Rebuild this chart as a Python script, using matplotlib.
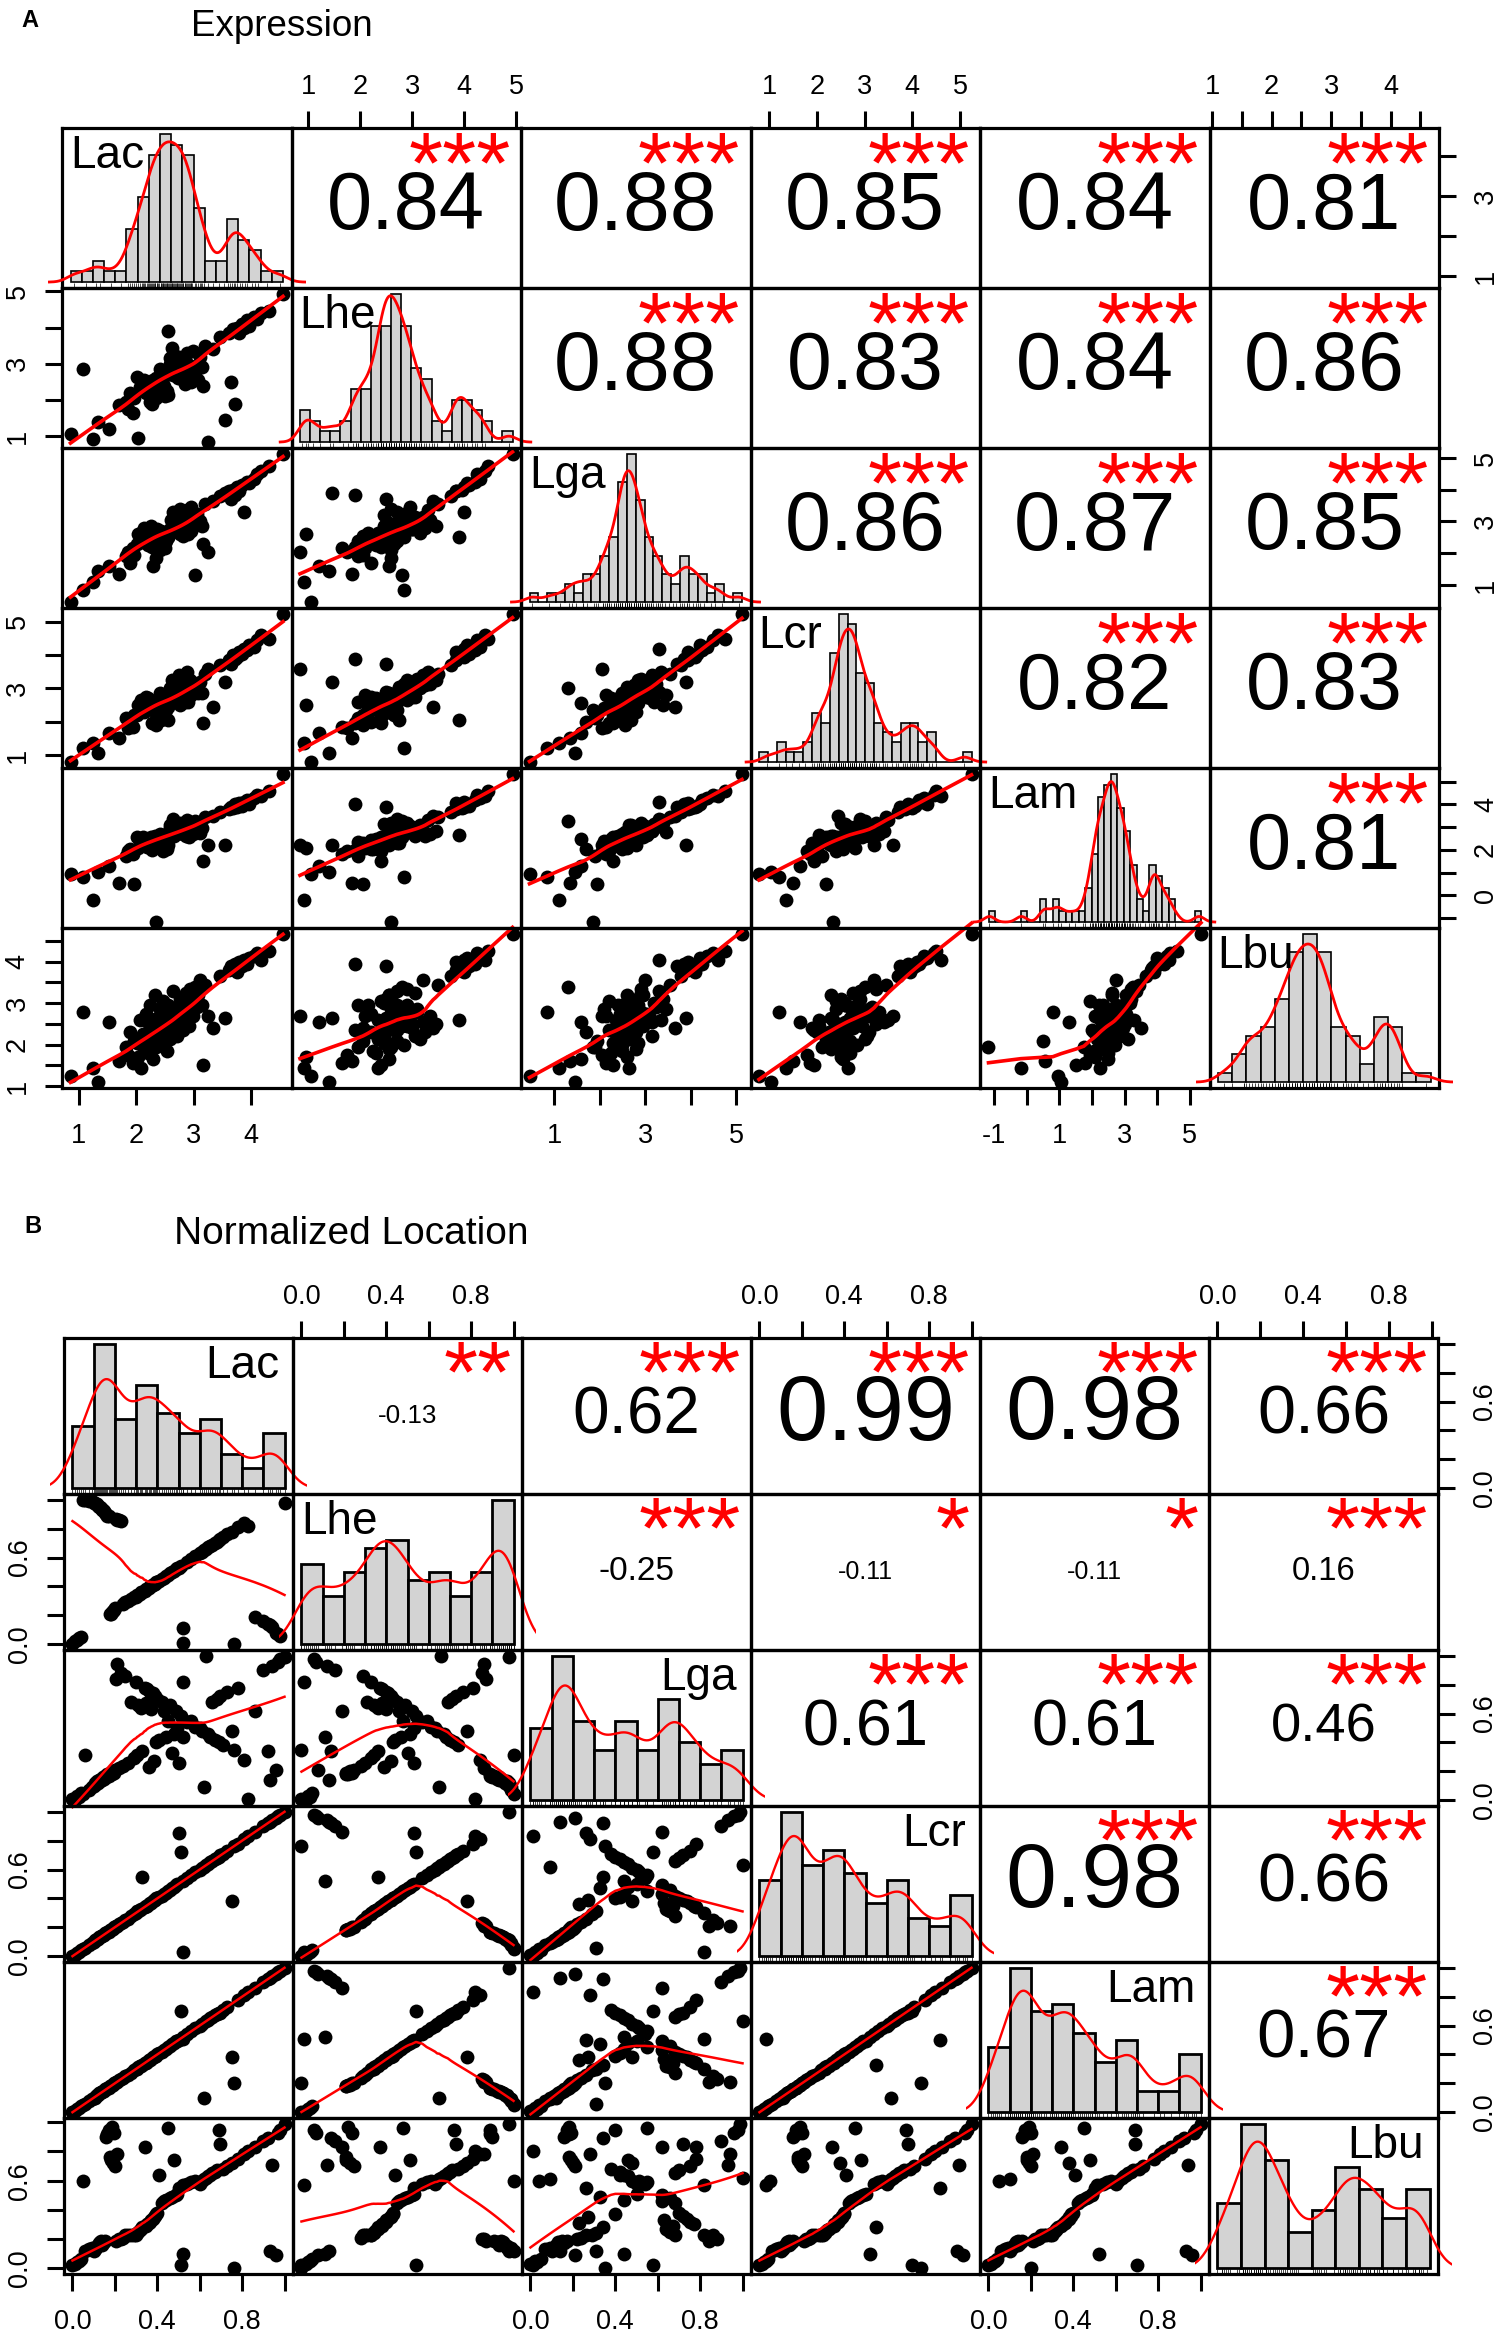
import numpy as np
import matplotlib
matplotlib.use("Agg")
import matplotlib.pyplot as plt
from matplotlib.transforms import Bbox, TransformedBbox

plt.rcParams["font.family"] = ["Liberation Sans", "DejaVu Sans"]

W, H = 1500, 2336
names = ["Lac", "Lhe", "Lga", "Lcr", "Lam", "Lbu"]

## Panel A: expression values (one entry per gene)
expr_lac = [0.86, 1.08, 1.25, 1.33, 1.52, 1.70, 1.82, 1.86, 1.90, 1.94,
            1.97, 2.01, 2.04, 2.07, 2.09, 2.12, 2.14, 2.17, 2.19, 2.21,
            2.22, 2.24, 2.25, 2.27, 2.29, 2.31, 2.32, 2.34, 2.35, 2.37,
            2.39, 2.41, 2.42, 2.43, 2.45, 2.46, 2.47, 2.49, 2.50, 2.52,
            2.53, 2.55, 2.56, 2.58, 2.59, 2.61, 2.62, 2.64, 2.65, 2.67,
            2.68, 2.70, 2.71, 2.73, 2.74, 2.76, 2.77, 2.79, 2.81, 2.82,
            2.84, 2.85, 2.87, 2.88, 2.90, 2.92, 2.93, 2.95, 2.96, 2.98,
            3.02, 3.05, 3.08, 3.11, 3.14, 3.16, 3.19, 3.25, 3.34, 3.45,
            3.55, 3.62, 3.65, 3.69, 3.72, 3.75, 3.78, 3.83, 3.87, 3.92,
            3.96, 4.04, 4.10, 4.16, 4.31, 4.55]
expr_lhe = [1.05, 2.85, 0.92, 1.40, 1.20, 1.85, 1.95, 1.75, 2.20, 1.65, 2.05,
            2.65, 0.95, 2.35, 2.35, 2.40, 2.55, 2.20, 2.35, 2.30, 2.50, 1.95,
            2.45, 1.90, 2.55, 2.45, 2.55, 2.05, 2.60, 2.50, 2.15, 2.85, 2.60,
            2.75, 2.70, 2.65, 2.40, 2.40, 2.10, 2.70, 2.25, 3.90, 2.15,
            3.00, 3.15, 2.75, 3.45, 2.70, 3.25, 2.85, 3.10, 2.90, 3.05, 2.60,
            3.20, 2.75, 2.60, 3.00, 3.10, 2.65, 2.45, 2.95, 3.05, 3.30, 2.70,
            2.80, 2.90, 2.95, 2.50, 3.35, 2.80, 2.85, 2.55, 3.20, 2.90,
            2.40, 3.50, 0.84, 3.40, 3.75, 1.45, 3.85, 2.50, 3.95, 1.90, 4.00,
            3.85, 4.10, 4.00, 4.20, 4.05, 4.30, 4.25, 4.40, 4.45, 4.93]
expr_lga = [0.46, 0.85, 1.10, 1.45, 1.60, 1.35, 1.90, 2.05, 1.70, 2.15, 1.95,
            2.30, 2.60, 2.35, 2.65, 2.35, 2.80, 2.45, 2.45, 2.25, 2.65, 2.40,
            2.85, 2.20, 1.60, 2.55, 2.60, 2.55, 1.85, 2.75, 2.65, 2.50, 2.10,
            2.70, 2.45, 2.60, 2.20, 2.55, 2.15, 2.40, 2.50, 2.50, 2.50,
            2.75, 2.65, 3.05, 2.85, 3.30, 2.80, 3.10, 2.75, 2.80, 3.15, 2.70,
            3.15, 2.60, 3.40, 2.75, 2.90, 2.55, 3.20, 3.00, 2.90, 3.35, 2.60,
            2.95, 2.90, 3.45, 2.70, 3.05, 1.30, 3.25, 2.95, 3.00, 2.85,
            2.30, 3.55, 2.05, 3.65, 3.80, 3.90, 3.95, 3.70, 4.00, 3.85, 4.10,
            3.95, 4.15, 3.30, 4.25, 4.20, 4.35, 4.50, 4.60, 4.75, 5.13]
expr_lcr = [0.79, 1.20, 1.35, 1.05, 1.65, 1.50, 2.10, 1.80, 2.00, 1.85, 2.20,
            2.20, 2.50, 2.35, 2.65, 2.45, 2.30, 2.75, 2.45, 2.70, 2.50, 2.60,
            2.55, 1.95, 2.55, 2.50, 2.30, 1.90, 2.35, 2.30, 2.25, 2.85, 2.40,
            2.05, 2.70, 2.60, 2.40, 2.15, 2.80, 2.35, 2.55, 2.05, 2.45,
            2.75, 3.00, 2.75, 3.25, 2.90, 3.10, 2.70, 3.10, 2.65, 3.05, 2.70,
            3.40, 3.05, 2.50, 2.80, 3.30, 2.65, 2.60, 2.90, 2.75, 3.50, 2.60,
            2.95, 3.25, 2.80, 2.90, 3.15, 3.00, 3.15, 2.85, 3.20, 2.85,
            1.95, 3.45, 3.60, 2.45, 3.70, 3.20, 3.85, 3.75, 4.00, 3.90, 3.95,
            4.10, 4.05, 4.20, 4.15, 4.30, 4.25, 4.45, 4.60, 4.50, 5.24]
expr_lam = [0.95, 0.80, -0.18, 1.05, 1.30, 0.55, 1.75, 1.95, 2.05, 1.80, 0.50,
            2.55, 2.10, 2.50, 2.25, 2.55, 2.20, 2.45, 2.15, 2.50, 2.45, 2.35,
            2.55, 2.00, 2.50, 2.45, 2.60, 2.30, -1.17, 2.35, 2.25, 2.70, 2.40,
            2.30, 2.30, 2.65, 1.95, 2.40, 2.10, 2.60, 2.05, 2.65, 2.20,
            2.95, 3.10, 2.65, 2.85, 3.35, 2.60, 2.95, 2.90, 2.80, 2.85, 3.00,
            2.85, 2.75, 3.20, 3.00, 2.70, 2.80, 3.15, 3.05, 2.60, 3.30, 2.75,
            2.55, 3.20, 2.80, 3.10, 2.70, 3.25, 3.00, 3.05, 2.75, 2.95,
            1.50, 3.45, 2.20, 3.50, 3.65, 2.20, 3.80, 3.90, 3.85, 4.00, 3.90,
            4.05, 3.95, 4.10, 4.20, 4.00, 4.30, 4.40, 4.35, 4.60, 5.34]
expr_lbu = [1.25, 2.80, 1.45, 1.10, 2.55, 1.60, 1.95, 1.75, 2.30, 1.55,
            2.10, 2.05, 1.70, 2.60, 1.45, 2.25, 1.90, 2.75, 2.15, 1.80,
            2.50, 2.95, 2.05, 2.35, 1.65, 2.20, 3.20, 2.40, 1.95, 2.65,
            2.30, 2.00, 2.85, 2.45, 2.10, 2.55, 3.05, 2.25, 2.70, 2.35,
            1.85, 2.60, 2.95, 2.40, 2.15, 2.75, 2.50, 3.30, 2.30, 2.65,
            2.85, 2.45, 2.20, 2.90, 2.55, 2.70, 3.10, 2.50, 2.80, 2.35,
            3.00, 2.75, 3.25, 2.60, 2.95, 2.45, 3.35, 2.85, 3.10, 2.70,
            3.40, 2.90, 3.20, 3.55, 2.95, 1.50, 3.45, 2.70, 2.40, 3.65,
            2.65, 3.80, 3.90, 3.85, 3.95, 3.75, 4.00, 3.90, 4.05, 3.95,
            4.10, 4.15, 4.20, 4.05, 4.25, 4.67]
# printed coefficients, upper triangle row by row
expr_r = [0.84, 0.88, 0.85, 0.84, 0.81,
          0.88, 0.83, 0.84, 0.86,
          0.86, 0.87, 0.85,
          0.82, 0.83,
          0.81]
expr_stars = ["***"] * 15

## Panel B: normalized location values
loc_lac = [0.00, 0.01, 0.02, 0.03, 0.04, 0.05, 0.06, 0.08, 0.09,
           0.100, 0.105, 0.110, 0.115, 0.120, 0.125, 0.130, 0.135, 0.140, 0.145, 0.150,
           0.155, 0.160, 0.165, 0.170, 0.175, 0.180, 0.185, 0.190, 0.195, 0.199,
           0.205, 0.210, 0.220, 0.230, 0.240, 0.250, 0.260, 0.275, 0.290,
           0.300, 0.305, 0.310, 0.320, 0.325, 0.330, 0.340, 0.345, 0.350, 0.360,
           0.365, 0.370, 0.380, 0.385, 0.390, 0.395,
           0.40, 0.41, 0.42, 0.43, 0.44, 0.45, 0.46, 0.47, 0.48, 0.49, 0.495,
           0.50, 0.51, 0.52, 0.52, 0.54, 0.56, 0.58,
           0.60, 0.61, 0.62, 0.63, 0.64, 0.65, 0.66, 0.67, 0.68, 0.69, 0.695,
           0.71, 0.73, 0.75, 0.76, 0.78,
           0.81, 0.83, 0.86,
           0.90, 0.92, 0.93, 0.94, 0.96, 0.97, 0.98, 1.00]
loc_lhe = [0.00, 0.02, 0.03, 0.04, 0.05, 1.00, 1.00, 0.99, 0.99,
           0.98, 0.98, 0.97, 0.97, 0.96, 0.95, 0.95, 0.94, 0.93, 0.93, 0.92,
           0.91, 0.90, 0.89, 0.89, 0.21, 0.21, 0.22, 0.23, 0.24, 0.25,
           0.87, 0.86, 0.86, 0.85, 0.28, 0.29, 0.30, 0.31, 0.33,
           0.33, 0.34, 0.34, 0.35, 0.36, 0.36, 0.37, 0.38, 0.38, 0.39,
           0.40, 0.40, 0.41, 0.42, 0.42, 0.43,
           0.43, 0.44, 0.45, 0.46, 0.47, 0.48, 0.49, 0.50, 0.51, 0.52, 0.53,
           0.53, 0.54, 0.11, 0.01, 0.57, 0.59, 0.61,
           0.63, 0.64, 0.65, 0.66, 0.67, 0.68, 0.69, 0.70, 0.71, 0.72, 0.73,
           0.74, 0.76, 0.78, 0.00, 0.81,
           0.84, 0.82, 0.19,
           0.16, 0.14, 0.13, 0.12, 0.08, 0.07, 0.06, 0.98]
loc_lga = [0.01, 0.00, 0.03, 0.02, 0.05, 0.04, 0.31, 0.07, 0.09,
           0.10, 0.12, 0.11, 0.13, 0.12, 0.14, 0.13, 0.15, 0.14, 0.16, 0.15,
           0.17, 0.16, 0.18, 0.17, 0.18, 0.19, 0.18, 0.20, 0.19, 0.21,
           0.84, 0.94, 0.22, 0.88, 0.24, 0.86, 0.26, 0.68, 0.29,
           0.82, 0.31, 0.66, 0.65, 0.64, 0.34, 0.78, 0.67, 0.77, 0.23,
           0.75, 0.63, 0.74, 0.27, 0.72, 0.40,
           0.70, 0.42, 0.68, 0.62, 0.44, 0.55, 0.66, 0.33, 0.46, 0.62, 0.50,
           0.26, 0.58, 0.44, 0.82, 0.54, 0.55, 0.51,
           0.50, 0.48, 0.09, 1.00, 0.46, 0.44, 0.68, 0.42, 0.70, 0.40, 0.72,
           0.38, 0.75, 0.48, 0.35, 0.78,
           0.28, 0.01, 0.62,
           0.90, 0.34, 0.14, 0.93, 0.21, 0.96, 0.98, 0.99]
loc_lcr = [0.00, 0.01, 0.02, 0.03, 0.04, 0.05, 0.06, 0.08, 0.09,
           0.10, 0.11, 0.11, 0.12, 0.12, 0.13, 0.13, 0.14, 0.14, 0.15, 0.15,
           0.16, 0.16, 0.17, 0.17, 0.18, 0.18, 0.19, 0.19, 0.20, 0.20,
           0.21, 0.21, 0.22, 0.23, 0.24, 0.25, 0.26, 0.28, 0.29,
           0.30, 0.31, 0.31, 0.32, 0.33, 0.55, 0.34, 0.35, 0.35, 0.36,
           0.37, 0.37, 0.38, 0.39, 0.39, 0.40,
           0.40, 0.41, 0.42, 0.43, 0.44, 0.45, 0.46, 0.47, 0.48, 0.49, 0.50,
           0.85, 0.72, 0.52, 0.03, 0.54, 0.56, 0.58,
           0.60, 0.61, 0.62, 0.63, 0.64, 0.65, 0.66, 0.67, 0.68, 0.69, 0.70,
           0.71, 0.73, 0.38, 0.76, 0.78,
           0.81, 0.83, 0.86,
           0.90, 0.92, 0.93, 0.94, 0.96, 0.97, 0.98, 1.00]
loc_lam = [0.00, 0.01, 0.02, 0.03, 0.04, 0.05, 0.06, 0.08, 0.09,
           0.10, 0.10, 0.11, 0.12, 0.12, 0.13, 0.13, 0.14, 0.14, 0.15, 0.15,
           0.16, 0.16, 0.17, 0.17, 0.18, 0.18, 0.19, 0.19, 0.20, 0.20,
           0.21, 0.21, 0.22, 0.23, 0.24, 0.25, 0.26, 0.27, 0.29,
           0.30, 0.30, 0.31, 0.32, 0.32, 0.33, 0.34, 0.34, 0.35, 0.36,
           0.36, 0.37, 0.38, 0.38, 0.39, 0.39,
           0.40, 0.41, 0.42, 0.43, 0.44, 0.45, 0.46, 0.47, 0.48, 0.49, 0.49,
           0.50, 0.70, 0.52, 0.51, 0.54, 0.56, 0.58,
           0.60, 0.61, 0.10, 0.63, 0.64, 0.65, 0.66, 0.67, 0.68, 0.69, 0.69,
           0.71, 0.73, 0.38, 0.20, 0.78,
           0.81, 0.83, 0.86,
           0.90, 0.92, 0.93, 0.94, 0.96, 0.97, 0.98, 1.00]
loc_lbu = [0.02, 0.03, 0.04, 0.05, 0.06, 0.60, 0.12, 0.13, 0.14,
           0.12, 0.13, 0.14, 0.15, 0.16, 0.17, 0.18, 0.19, 0.16, 0.17, 0.18,
           0.19, 0.90, 0.92, 0.95, 0.76, 0.74, 0.97, 0.72, 0.93, 0.70,
           0.19, 0.78, 0.20, 0.20, 0.21, 0.23, 0.23, 0.23, 0.23,
           0.23, 0.24, 0.25, 0.26, 0.27, 0.28, 0.83, 0.29, 0.30, 0.31,
           0.32, 0.33, 0.34, 0.35, 0.36, 0.37,
           0.38, 0.64, 0.45, 0.46, 0.47, 0.96, 0.48, 0.49, 0.74, 0.50, 0.51,
           0.55, 0.02, 0.10, 0.57, 0.58, 0.59, 0.60,
           0.58, 0.60, 0.61, 0.62, 0.63, 0.64, 0.65, 0.66, 0.67, 0.95, 0.85,
           0.68, 0.70, 0.72, 0.00, 0.75,
           0.78, 0.80, 0.83,
           0.87, 0.89, 0.12, 0.71, 0.09, 0.93, 0.95, 0.99]
loc_r = [-0.13, 0.62, 0.99, 0.98, 0.66,
         -0.25, -0.11, -0.11, 0.16,
         0.61, 0.61, 0.46,
         0.98, 0.66,
         0.67]
loc_stars = ["**", "***", "***", "***", "***",
             "***", "*", "*", "***",
             "***", "***", "***",
             "***", "***",
             "***"]

# tick positions / labels of the outer axes (x for columns, y for rows)
expr_xticks = [([1, 2, 3, 4], ["1", "2", "3", "4"]),
               ([1, 2, 3, 4, 5], ["1", "2", "3", "4", "5"]),
               ([1, 2, 3, 4, 5], ["1", "", "3", "", "5"]),
               ([1, 2, 3, 4, 5], ["1", "2", "3", "4", "5"]),
               ([-1, 0, 1, 2, 3, 4, 5], ["-1", "", "1", "", "3", "", "5"]),
               ([1, 1.5, 2, 2.5, 3, 3.5, 4, 4.5], ["1", "", "2", "", "3", "", "4", ""])]
expr_yticks = [([1, 2, 3, 4], ["1", "", "3", ""]),
               ([1, 2, 3, 4, 5], ["1", "", "3", "", "5"]),
               ([1, 2, 3, 4, 5], ["1", "", "3", "", "5"]),
               ([1, 2, 3, 4, 5], ["1", "", "3", "", "5"]),
               ([-1, 0, 1, 2, 3, 4, 5], ["", "0", "", "2", "", "4", ""]),
               ([1, 1.5, 2, 2.5, 3, 3.5, 4, 4.5], ["1", "", "2", "", "3", "", "4", ""])]
loc_tick_pos = [0, 0.2, 0.4, 0.6, 0.8, 1.0]
loc_xticks = [(loc_tick_pos, ["0.0", "", "0.4", "", "0.8", ""])] * 6
loc_yticks = [(loc_tick_pos, ["0.0", "", "", "0.6", "", ""])] * 6


def lowess(x, y, f=2 / 3, iters=3):
    x = np.asarray(x, float)
    y = np.asarray(y, float)
    order = np.argsort(x, kind="mergesort")
    x, y = x[order], y[order]
    n = len(x)
    k = int(np.ceil(f * n))
    fit = np.zeros(n)
    rw = np.ones(n)
    for it in range(iters + 1):
        for i in range(n):
            d = np.abs(x - x[i])
            h = max(np.sort(d)[k - 1], 1e-9)
            u = np.clip(d / h, 0, 1)
            w = (1 - u ** 3) ** 3 * rw
            sw = w.sum()
            xm = (w * x).sum() / sw
            ym = (w * y).sum() / sw
            sxx = (w * (x - xm) ** 2).sum()
            b = (w * (x - xm) * (y - ym)).sum() / sxx if sxx > 1e-12 else 0.0
            fit[i] = ym + b * (x[i] - xm)
        res = y - fit
        s = np.median(np.abs(res))
        if s == 0:
            break
        u = np.clip(res / (6 * s), -1, 1)
        rw = (1 - u ** 2) ** 2
    return x, fit


def kde(v, adjust):
    v = np.asarray(v, float)
    n = len(v)
    q75, q25 = np.percentile(v, [75, 25])
    bw = 0.9 * min(v.std(ddof=1), (q75 - q25) / 1.34) * n ** -0.2 * adjust
    xs = np.linspace(v.min() - 3 * bw, v.max() + 3 * bw, 512)
    dens = np.exp(-0.5 * ((xs[:, None] - v[None, :]) / bw) ** 2).sum(1) / (n * bw * np.sqrt(2 * np.pi))
    return xs, dens


def px_rect(x0, y0, w, h):
    return [x0 / W, 1 - (y0 + h) / H, w / W, h / H]


def clip_box(fig, x0, y0, w, h, pad):
    bb = Bbox.from_extents((x0 - pad) / W, 1 - (y0 + h + pad) / H,
                           (x0 + w + pad) / W, 1 - (y0 - pad) / H)
    return TransformedBbox(bb, fig.transFigure)


def draw_matrix(fig, cols, corr, stars, left, top, cw, ch, binw, xticks, yticks,
                label_side, hist_lw, dens_lw, smooth_lw, adjust):
    n = len(cols)
    cols = [np.asarray(c, float) for c in cols]
    lims = []
    for v in cols:
        rng = v.max() - v.min()
        lims.append((v.min() - 0.04 * rng, v.max() + 0.04 * rng))
    tick_kw = dict(length=12.5, width=2.2, labelsize=19.5)
    k = 0
    for i in range(n):
        for j in range(n):
            x0, y0 = left + j * cw, top + i * ch
            ax = fig.add_axes(px_rect(x0, y0, cw, ch))
            ax.set_facecolor("none")
            ax.set_xlim(lims[j])
            ax.set_ylim(lims[i])
            for s in ax.spines.values():
                s.set_linewidth(2.3)
            ax.tick_params(bottom=False, top=False, left=False, right=False,
                           labelbottom=False, labelleft=False)
            ax.set_xticks([])
            ax.set_yticks([])
            # outer axes, alternating like pairs()
            if i == 0 and j % 2 == 1:
                ax.set_xticks(xticks[j][0])
                ax.set_xticklabels(xticks[j][1])
                ax.tick_params(axis="x", top=True, labeltop=True, pad=8, **tick_kw)
            if i == n - 1 and j % 2 == 0:
                ax.set_xticks(xticks[j][0])
                ax.set_xticklabels(xticks[j][1])
                ax.tick_params(axis="x", bottom=True, labelbottom=True, pad=13, **tick_kw)
            if j == 0 and i % 2 == 1:
                ax.set_yticks(yticks[i][0])
                ax.set_yticklabels(yticks[i][1], rotation=90, va="center")
                ax.tick_params(axis="y", left=True, labelleft=True, pad=10, **tick_kw)
            if j == n - 1 and i % 2 == 0:
                ax.set_yticks(yticks[i][0])
                ax.set_yticklabels(yticks[i][1], rotation=90, va="center")
                ax.tick_params(axis="y", right=True, labelright=True, pad=12, **tick_kw)

            if i > j:
                # lower panel: points + lowess smoother
                ax.plot(cols[j], cols[i], "o", color="black", ms=10, mew=0)
                xs, fit = lowess(cols[j], cols[i])
                ln, = ax.plot(xs, fit, color="red", lw=smooth_lw)
                ln.set_clip_box(clip_box(fig, x0, y0, cw, ch, 12))
            elif i < j:
                r = corr[k]
                txt = "%.2f" % r
                em = 92.7 * (abs(r) + 0.3) / 1.3 * (1.946 / (1.946 + 0.333 * (r < 0)))
                ax.text(0.5, 0.5, txt, transform=ax.transAxes, ha="center", va="center",
                        fontsize=em * 0.72)
                ax.text(0.955, 0.74, stars[k], transform=ax.transAxes, ha="right",
                        va="center", color="red", fontsize=63)
                k += 1
            else:
                # diagonal: histogram, density and rug on its own scale
                v = cols[i]
                w = binw[i]
                b0 = np.floor(round(v.min() / w, 6)) * w
                b1 = np.ceil(round(v.max() / w, 6)) * w
                nb = int(round((b1 - b0) / w))
                edges = np.linspace(b0, b1, nb + 1)
                counts, _ = np.histogram(v, bins=edges)
                dens = counts / (len(v) * w)
                m = dens.max()
                hax = fig.add_axes(px_rect(x0, y0, cw, ch))
                hax.set_axis_off()
                hax.bar(edges[:-1], dens, width=w, align="edge", color="#D3D3D3",
                        edgecolor="black", linewidth=hist_lw)
                span = b1 - b0
                hax.set_xlim(b0 - 0.04 * span, b1 + 0.04 * span)
                hax.set_ylim(-0.04 * m, 1.04 * m)
                kx, ky = kde(v, adjust)
                ln, = hax.plot(kx, ky, color="red", lw=dens_lw)
                ln.set_clip_box(clip_box(fig, x0, y0, cw, ch, 14))
                hax.vlines(v, -0.04 * m, -0.04 * m + 0.03 * 1.08 * m, color="black", lw=0.5)
                if label_side[i] == "left":
                    fig.text((x0 + 8) / W, 1 - (y0 + 6) / H, names[i], ha="left", va="top",
                             fontsize=33)
                else:
                    fig.text((x0 + cw - 14) / W, 1 - (y0 + 6) / H, names[i], ha="right",
                             va="top", fontsize=33)


fig = plt.figure(figsize=(W / 100, H / 100), dpi=100)
fig.patch.set_facecolor("white")

fig.text(21 / W, 1 - 27 / H, "A", fontsize=17, fontweight="bold", va="baseline")
fig.text(191 / W, 1 - 36 / H, "Expression", fontsize=26.5, va="baseline")
draw_matrix(fig, [expr_lac, expr_lhe, expr_lga, expr_lcr, expr_lam, expr_lbu],
            expr_r, expr_stars, 62, 128, 229.5, 160,
            [0.2, 0.2, 0.2, 0.2, 0.2, 0.25], expr_xticks, expr_yticks,
            ["left"] * 6, 1.2, 2.0, 2.6, 0.7)

fig.text(24 / W, 1 - 1233 / H, "B", fontsize=17, fontweight="bold", va="baseline")
fig.text(174 / W, 1 - 1244 / H, "Normalized Location", fontsize=28, va="baseline")
draw_matrix(fig, [loc_lac, loc_lhe, loc_lga, loc_lcr, loc_lam, loc_lbu],
            loc_r, loc_stars, 64, 1338, 229, 156,
            [0.1, 0.1, 0.1, 0.1, 0.1, 1 / 9], loc_xticks, loc_yticks,
            ["right", "left", "right", "right", "right", "right"], 2.0, 1.7, 1.8, 0.65)

fig.savefig("out.png", dpi=100)
